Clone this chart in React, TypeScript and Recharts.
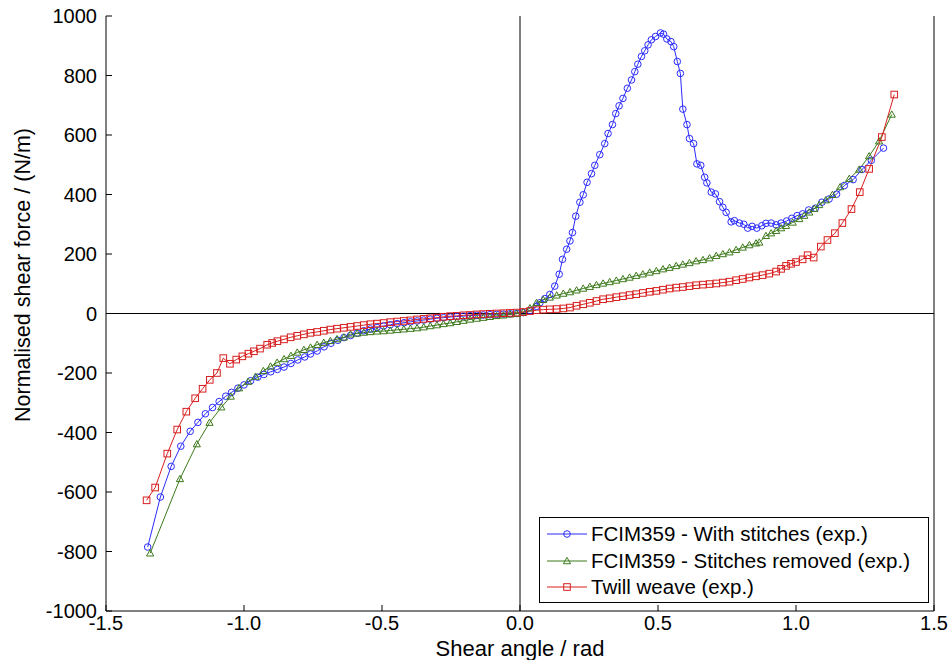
import {
  CartesianGrid,
  Label,
  Line,
  LineChart,
  ReferenceLine,
  XAxis,
  YAxis,
} from 'recharts'

// shear angle (rad), normalised shear force (N/m)
const withStitches: [number, number][] = [
  [-1.349, -785], [-1.303, -617], [-1.264, -514], [-1.229, -446], [-1.195, -396],
  [-1.167, -366], [-1.14, -337], [-1.114, -316], [-1.09, -296], [-1.066, -278],
  [-1.045, -265], [-1.022, -251], [-1.0, -240], [-0.976, -226], [-0.95, -214],
  [-0.928, -205], [-0.903, -196], [-0.879, -188], [-0.855, -180], [-0.83, -168],
  [-0.805, -156], [-0.78, -146], [-0.759, -136], [-0.735, -126], [-0.71, -112],
  [-0.685, -100], [-0.66, -90], [-0.638, -81], [-0.614, -74], [-0.59, -66],
  [-0.566, -58], [-0.542, -52], [-0.518, -47], [-0.494, -42], [-0.47, -38],
  [-0.445, -34], [-0.42, -31], [-0.397, -28], [-0.373, -25], [-0.349, -22],
  [-0.325, -19], [-0.301, -16], [-0.277, -14], [-0.253, -12], [-0.229, -10],
  [-0.205, -9], [-0.181, -7], [-0.157, -6], [-0.133, -5], [-0.109, -4],
  [-0.085, -3], [-0.06, -2], [-0.036, -1], [-0.012, 0], [0.012, 3],
  [0.036, 10], [0.06, 24], [0.072, 36], [0.09, 50], [0.108, 64],
  [0.126, 92], [0.142, 132], [0.154, 182], [0.169, 216], [0.181, 244],
  [0.19, 272], [0.202, 327], [0.217, 374], [0.229, 399], [0.243, 441],
  [0.259, 470], [0.271, 498], [0.289, 534], [0.307, 571], [0.319, 605],
  [0.335, 635], [0.347, 672], [0.359, 698], [0.373, 723], [0.389, 757],
  [0.404, 785], [0.416, 813], [0.427, 838], [0.44, 864], [0.452, 883],
  [0.464, 903], [0.476, 920], [0.491, 931], [0.509, 943], [0.52, 939],
  [0.532, 923], [0.547, 914], [0.557, 897], [0.57, 847], [0.581, 807],
  [0.59, 687], [0.605, 635], [0.614, 588], [0.629, 571], [0.641, 503],
  [0.655, 498], [0.669, 458], [0.677, 439], [0.693, 408], [0.708, 402],
  [0.723, 376], [0.735, 357], [0.747, 340], [0.765, 308], [0.777, 312],
  [0.795, 304], [0.811, 300], [0.825, 287], [0.841, 293], [0.858, 287],
  [0.876, 295], [0.891, 303], [0.91, 304], [0.928, 298], [0.946, 304],
  [0.966, 311], [0.985, 320], [1.004, 329], [1.024, 335], [1.046, 348],
  [1.07, 354], [1.094, 374], [1.12, 385], [1.147, 401], [1.175, 430],
  [1.207, 450], [1.239, 484], [1.273, 515], [1.317, 556],
]

const stitchesRemoved: [number, number][] = [
  [-1.34, -806], [-1.232, -556], [-1.171, -439], [-1.125, -367], [-1.082, -315],
  [-1.048, -279], [-1.018, -251], [-0.985, -229], [-0.958, -212], [-0.93, -193],
  [-0.904, -178], [-0.88, -165], [-0.855, -153], [-0.83, -142], [-0.807, -131],
  [-0.783, -122], [-0.759, -114], [-0.735, -105], [-0.711, -98], [-0.687, -92],
  [-0.663, -86], [-0.638, -80], [-0.614, -70], [-0.59, -67], [-0.566, -64],
  [-0.542, -62], [-0.518, -60], [-0.494, -59], [-0.47, -57], [-0.445, -55],
  [-0.421, -53], [-0.397, -51], [-0.373, -49], [-0.349, -46], [-0.325, -42],
  [-0.301, -39], [-0.277, -35], [-0.253, -32], [-0.229, -28], [-0.205, -24],
  [-0.181, -20], [-0.157, -17], [-0.133, -14], [-0.109, -11], [-0.085, -8],
  [-0.06, -6], [-0.036, -3], [-0.012, -1], [0.012, 5], [0.036, 18],
  [0.06, 36], [0.084, 46], [0.108, 54], [0.133, 61], [0.157, 67],
  [0.181, 72], [0.205, 78], [0.229, 84], [0.253, 90], [0.277, 96],
  [0.301, 101], [0.325, 106], [0.349, 111], [0.373, 116], [0.397, 121],
  [0.421, 127], [0.445, 132], [0.47, 138], [0.494, 143], [0.518, 149],
  [0.542, 154], [0.566, 160], [0.59, 165], [0.614, 170], [0.638, 176],
  [0.663, 180], [0.687, 186], [0.711, 194], [0.735, 200], [0.759, 206],
  [0.783, 214], [0.807, 222], [0.831, 230], [0.855, 236], [0.867, 239],
  [0.891, 261], [0.91, 270], [0.928, 278], [0.946, 287], [0.964, 295],
  [0.988, 306], [1.012, 318], [1.03, 329], [1.048, 340], [1.066, 352],
  [1.084, 365], [1.108, 381], [1.132, 399], [1.16, 425], [1.193, 453],
  [1.229, 484], [1.265, 529], [1.301, 579], [1.347, 669],
]

const twillWeave: [number, number][] = [
  [-1.353, -628], [-1.322, -585], [-1.278, -471], [-1.242, -390], [-1.209, -330],
  [-1.177, -285], [-1.15, -253], [-1.124, -223], [-1.098, -200], [-1.075, -150],
  [-1.051, -169], [-1.028, -155], [-1.006, -144], [-0.984, -135], [-0.964, -127],
  [-0.942, -118], [-0.916, -105], [-0.898, -99], [-0.879, -93], [-0.855, -87],
  [-0.831, -80], [-0.807, -75], [-0.783, -70], [-0.759, -65], [-0.735, -62],
  [-0.711, -58], [-0.687, -54], [-0.663, -51], [-0.638, -48], [-0.614, -45],
  [-0.59, -42], [-0.566, -39], [-0.542, -36], [-0.518, -34], [-0.494, -32],
  [-0.47, -29], [-0.445, -27], [-0.421, -25], [-0.397, -23], [-0.373, -20],
  [-0.349, -18], [-0.325, -16], [-0.301, -14], [-0.277, -11], [-0.253, -9],
  [-0.229, -8], [-0.205, -6], [-0.181, -5], [-0.157, -3], [-0.133, -2],
  [-0.109, -1], [-0.085, 0], [-0.06, 1], [-0.036, 2], [-0.012, 3],
  [0.012, 5], [0.036, 8], [0.06, 11], [0.084, 13], [0.108, 14],
  [0.133, 15], [0.157, 17], [0.181, 20], [0.205, 26], [0.229, 31],
  [0.253, 36], [0.277, 42], [0.301, 48], [0.325, 51], [0.349, 55],
  [0.373, 58], [0.397, 62], [0.421, 65], [0.445, 69], [0.47, 73],
  [0.494, 76], [0.518, 80], [0.542, 84], [0.566, 87], [0.59, 89],
  [0.614, 92], [0.638, 95], [0.663, 97], [0.687, 99], [0.711, 101],
  [0.735, 104], [0.759, 107], [0.783, 112], [0.807, 116], [0.831, 121],
  [0.855, 125], [0.879, 129], [0.903, 134], [0.928, 141], [0.946, 150],
  [0.964, 160], [0.982, 167], [1.0, 173], [1.024, 182], [1.042, 196],
  [1.064, 188], [1.09, 225], [1.114, 247], [1.141, 270], [1.168, 304],
  [1.201, 351], [1.231, 408], [1.265, 486], [1.311, 593], [1.356, 736],
]

const xTicks = [-1.5, -1, -0.5, 0, 0.5, 1, 1.5]
const yTicks = [-1000, -800, -600, -400, -200, 0, 200, 400, 600, 800, 1000]

const FONT = '"Liberation Sans", Arial, Helvetica, sans-serif'

type Shape = 'circle' | 'triangle' | 'square'

const series: { name: string; color: string; shape: Shape; points: [number, number][] }[] = [
  { name: 'FCIM359 - With stitches (exp.)', color: '#2b2bff', shape: 'circle', points: withStitches },
  { name: 'FCIM359 - Stitches removed (exp.)', color: '#3d7a1c', shape: 'triangle', points: stitchesRemoved },
  { name: 'Twill weave (exp.)', color: '#d81e1e', shape: 'square', points: twillWeave },
]

function marker(shape: Shape, color: string, cx: number, cy: number, key?: string | number) {
  if (shape === 'circle') {
    return <circle key={key} cx={cx} cy={cy} r={3.3} fill="none" stroke={color} strokeWidth={1} />
  }
  if (shape === 'triangle') {
    const s = 3.6
    return (
      <polygon
        key={key}
        points={`${cx},${cy - s} ${cx - s},${cy + s * 0.75} ${cx + s},${cy + s * 0.75}`}
        fill="none"
        stroke={color}
        strokeWidth={1}
      />
    )
  }
  return <rect key={key} x={cx - 3.3} y={cy - 3.3} width={6.6} height={6.6} fill="none" stroke={color} strokeWidth={1} />
}

const tickStyle = { fontFamily: FONT, fontSize: 20, fill: '#000' }

export default function App() {
  return (
    <div style={{ position: 'absolute', left: 0, top: 0, width: 950, height: 660, background: '#fff' }}>
      <LineChart width={950} height={660} margin={{ top: 16, right: 0, bottom: 0, left: 0 }}>
        <CartesianGrid stroke="none" />
        <XAxis
          xAxisId="bottom"
          type="number"
          dataKey="x"
          domain={[-1.5, 1.5]}
          ticks={xTicks}
          tickFormatter={(v: number) => v.toFixed(1)}
          allowDataOverflow
          height={49}
          stroke="#000"
          tickSize={-6}
          tickMargin={11}
          tick={tickStyle}
        >
          <Label value="Shear angle / rad" position="insideBottom" offset={4} style={{ fontFamily: FONT, fontSize: 22, fill: '#000' }} />
        </XAxis>
        <XAxis
          xAxisId="top"
          orientation="top"
          type="number"
          domain={[-1.5, 1.5]}
          ticks={xTicks}
          height={0}
          stroke="#000"
          tickSize={-6}
          tick={false}
        />
        <YAxis
          yAxisId="left"
          type="number"
          domain={[-1000, 1000]}
          ticks={yTicks}
          allowDataOverflow
          width={106}
          stroke="#000"
          tickSize={-6}
          tickMargin={15}
          tick={tickStyle}
        >
          <Label
            content={() => (
              <text
                transform="translate(30,275) rotate(-90)"
                textAnchor="middle"
                style={{ fontFamily: FONT, fontSize: 21.5, fill: '#000' }}
              >
                Normalised shear force / (N/m)
              </text>
            )}
          />
        </YAxis>
        <YAxis
          yAxisId="right"
          orientation="right"
          type="number"
          domain={[-1000, 1000]}
          ticks={yTicks}
          width={16}
          stroke="#000"
          tickSize={-6}
          tick={false}
        />
        <ReferenceLine xAxisId="bottom" yAxisId="left" x={0} stroke="#000" strokeWidth={1} />
        <ReferenceLine xAxisId="bottom" yAxisId="left" y={0} stroke="#000" strokeWidth={1} />
        {series.map((s) => (
          <Line
            key={s.name}
            xAxisId="bottom"
            yAxisId="left"
            data={s.points.map(([x, y]) => ({ x, y }))}
            dataKey="y"
            name={s.name}
            type="linear"
            stroke={s.color}
            strokeWidth={1}
            isAnimationActive={false}
            dot={(p: any) => marker(s.shape, s.color, p.cx, p.cy, p.index)}
            activeDot={false}
          />
        ))}
      </LineChart>
      <div
        style={{
          position: 'absolute',
          left: 539,
          top: 517,
          width: 390,
          height: 86,
          border: '1px solid #000',
          background: '#fff',
          boxSizing: 'border-box',
          fontFamily: FONT,
          fontSize: 20.5,
          paddingTop: 3,
        }}
      >
        {series.map((s) => (
          <div key={s.name} style={{ display: 'flex', alignItems: 'center', height: 26.5, whiteSpace: 'nowrap' }}>
            <svg width={52} height={14} style={{ marginLeft: 7, flexShrink: 0 }}>
              <line x1={0} y1={7} x2={40} y2={7} stroke={s.color} strokeWidth={1} />
              {marker(s.shape, s.color, 20, 7)}
            </svg>
            <span style={{ marginLeft: -8 }}>{s.name}</span>
          </div>
        ))}
      </div>
    </div>
  )
}
